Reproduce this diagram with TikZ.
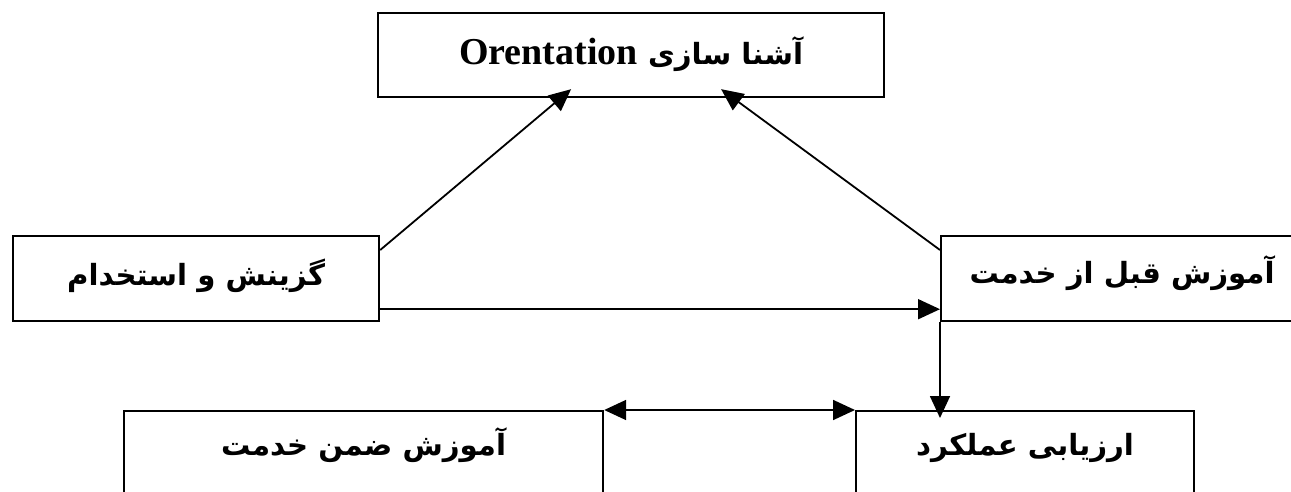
\documentclass[tikz,border=0pt]{standalone}
\usepackage{fontspec}
\setmainfont{Liberation Serif}
\newfontfamily\arabicfont[Script=Arabic]{DejaVu Sans}
\TeXXeTstate=1
\usetikzlibrary{arrows.meta,calc}
\begin{document}
\begin{tikzpicture}[x=0.5pt,y=-0.5pt,
  box/.style={draw=black,line width=1.1pt,rectangle,anchor=north west,inner sep=0pt},
  lbl/.style={inner sep=0pt,anchor=base,font=\arabicfont\bfseries\fontsize{14.6}{18}\selectfont},
  tip/.tip={Triangle[length=11pt,width=10pt]},
  arr/.style={line width=0.9pt,-tip},
  darr/.style={line width=0.9pt,tip-tip}]
\useasboundingbox (0,0) rectangle (1291,492);
\fill[white] (0,0) rectangle (1291,492);
\begin{scope}
\clip (0,0) rectangle (1291,492);
\node[box,minimum width=253pt,minimum height=42pt] (ori) at (377,12) {};
\node[box,minimum width=183pt,minimum height=42.5pt] (sel) at (12,235) {};
\node[box,minimum width=181pt,minimum height=42.5pt] (pre) at (940,235) {};
\node[box,minimum width=239.5pt,minimum height=60pt] (inserv) at (123,410) {};
\node[box,minimum width=169pt,minimum height=60pt] (eval) at (855,410) {};

\node[lbl] (tori) at ($(ori.north)+(0,53)$) {\beginR آشنا سازی {\rmfamily\bfseries\fontsize{19}{22}\selectfont\beginL Orentation\endL}\endR};
\node[lbl] (tsel) at ($(sel.north)+(0,50)$) {\beginR گزینش و استخدام\endR};
\node[lbl] (tpre) at ($(pre.north)+(0,48)$) {\beginR آموزش قبل از خدمت\endR};
\node[lbl] (tins) at ($(inserv.north)+(0,45)$) {\beginR آموزش ضمن خدمت\endR};
\node[lbl] (teval) at ($(eval.north)+(0,45)$) {\beginR ارزیابی عملکرد\endR};

\draw[arr] ($(sel.north east)+(0,15)$) -- ($(ori.south)+(-60,-9)$);
\draw[arr] ($(pre.north west)+(0,15)$) -- ($(ori.south)+(90,-9)$);
\coordinate (hs) at ($(sel.south east)+(0,-13)$);
\draw[arr] (hs) -- (pre.west |- hs);
\draw[arr] (pre.south west) -- ($(pre.south west |- eval.north)+(0,8)$);
\draw[darr] (inserv.north east) -- (eval.north west);
\end{scope}
\end{tikzpicture}
\end{document}
